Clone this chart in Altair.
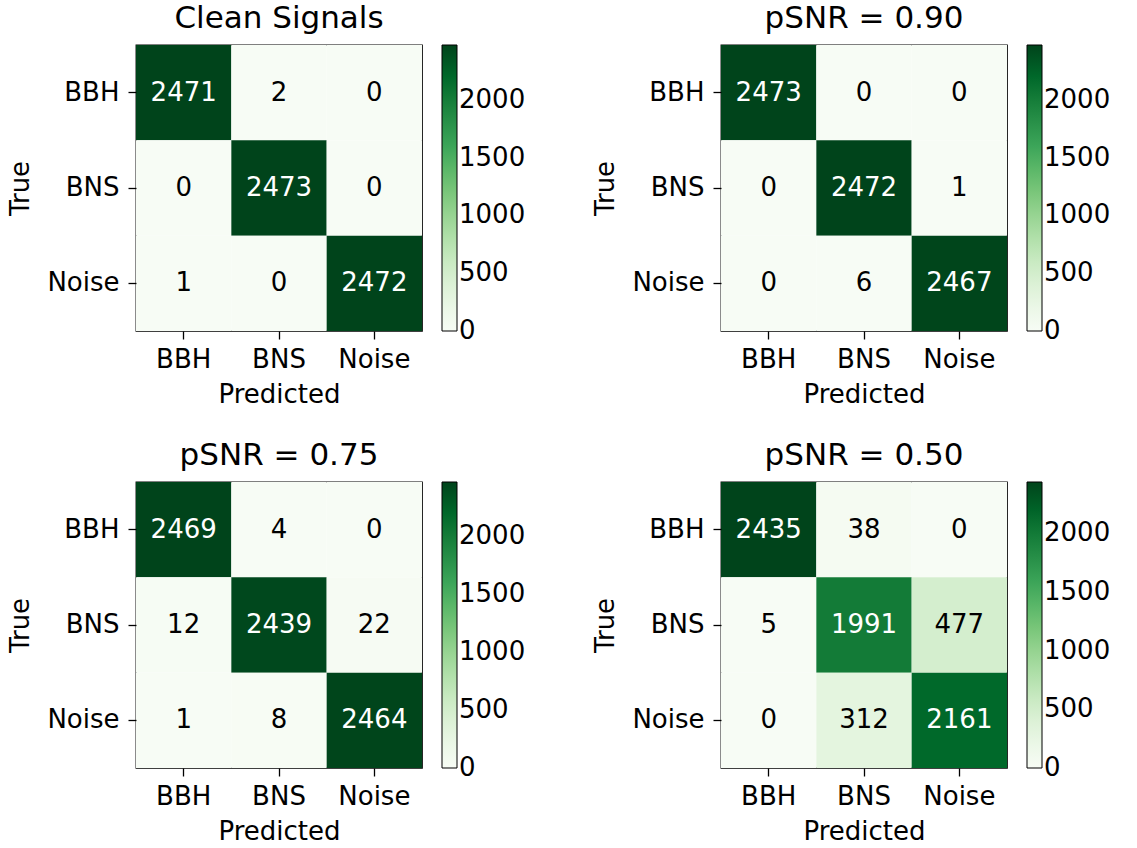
import altair as alt
import pandas as pd

# Class labels shared by every confusion matrix
classes = ["BBH", "BNS", "Noise"]

# Panel titles
titles = ["Clean Signals", "pSNR = 0.90", "pSNR = 0.75", "pSNR = 0.50"]

# Confusion matrices: rows = true class, columns = predicted class
clean = [[2471, 2, 0], [0, 2473, 0], [1, 0, 2472]]
psnr_090 = [[2473, 0, 0], [0, 2472, 1], [0, 6, 2467]]
psnr_075 = [[2469, 4, 0], [12, 2439, 22], [1, 8, 2464]]
psnr_050 = [[2435, 38, 0], [5, 1991, 477], [0, 312, 2161]]

# Colorbar tick values (the lowest sits a hair above the scale minimum so
# its label stays vertically centred on the bar's end)
cbar_ticks = [0.01, 500, 1000, 1500, 2000]

# ColorBrewer "Greens" (9 classes), light to dark
greens = ["#f7fcf5", "#e5f5e0", "#c7e9c0", "#a1d99b", "#74c476",
          "#41ab5d", "#238b45", "#006d2c", "#00441b"]

FONT = "DejaVu Sans"
SIZE = 286
FS = 26


def panel(title, matrix):
    rows = []
    for i, t in enumerate(classes):
        for j, p in enumerate(classes):
            rows.append({"true": t, "pred": p, "count": matrix[i][j]})
    df = pd.DataFrame(rows)
    vmax = max(max(r) for r in matrix)
    vmin = min(min(r) for r in matrix)
    thresh = (vmax + vmin) / 2.0
    # piecewise-linear colour stops spanning [vmin, vmax]
    n = len(greens) - 1
    stops = [vmin + (vmax - vmin) * k / n for k in range(n + 1)]

    base = alt.Chart(df).encode(
        x=alt.X("pred:N", sort=classes, title="Predicted",
                scale=alt.Scale(paddingInner=0, paddingOuter=0),
                axis=alt.Axis(labelAngle=0, labelPadding=7)),
        y=alt.Y("true:N", sort=classes, title="True",
                scale=alt.Scale(paddingInner=0, paddingOuter=0)),
    )
    rect = base.mark_rect().encode(
        color=alt.Color(
            "count:Q",
            scale=alt.Scale(domain=stops, range=greens, nice=False),
            legend=alt.Legend(title=None, values=cbar_ticks, format="d"),
        )
    )
    text = base.mark_text(fontSize=FS, font=FONT).encode(
        text="count:Q",
        color=alt.condition(f"datum.count > {thresh}",
                            alt.value("white"), alt.value("black")),
    )
    return alt.layer(rect, text).properties(
        title=title, width=SIZE, height=SIZE
    )


p1 = panel(titles[0], clean)
p2 = panel(titles[1], psnr_090)
p3 = panel(titles[2], psnr_075)
p4 = panel(titles[3], psnr_050)

top = alt.hconcat(p1, p2, spacing=65).resolve_scale(color="independent")
bottom = alt.hconcat(p3, p4, spacing=65).resolve_scale(color="independent")

chart = (
    alt.vconcat(top, bottom, spacing=31)
    .resolve_scale(color="independent")
    .properties(padding={"left": 7, "top": 2, "right": 5, "bottom": 2})
    .configure(font=FONT)
    .configure_view(stroke="black", strokeWidth=1.3)
    .configure_axis(
        domain=False,
        grid=False,
        tickColor="black",
        tickSize=8,
        tickWidth=1.3,
        labelFont=FONT,
        labelFontSize=FS,
        labelColor="black",
        labelPadding=9,
        titleFont=FONT,
        titleFontSize=FS,
        titleFontWeight="normal",
        titleColor="black",
        titlePadding=9,
    )
    .configure_axisY(titlePadding=13)
    .configure_title(font=FONT, fontSize=31, fontWeight="normal",
                     color="black", offset=10)
    .configure_legend(
        orient="right",
        offset=20,
        padding=0,
        gradientLength=SIZE,
        gradientThickness=15,
        gradientStrokeColor="black",
        gradientStrokeWidth=1,
        labelFont=FONT,
        labelFontSize=FS,
        labelColor="black",
        labelOffset=8,
        labelBaseline="middle",
        labelOverlap=False,
    )
)

chart.save("out.html", embed_options={"renderer": "svg", "actions": False})
